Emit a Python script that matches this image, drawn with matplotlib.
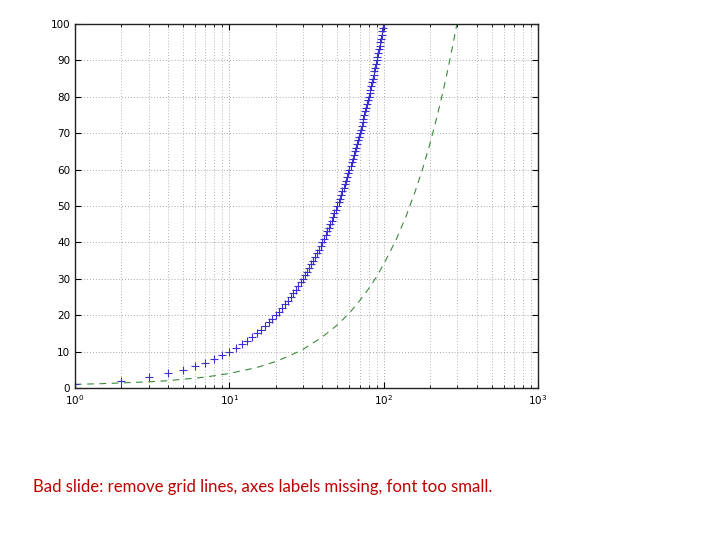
import matplotlib
matplotlib.use("Agg")
import matplotlib.pyplot as plt
from matplotlib.ticker import LogLocator, FixedLocator, NullFormatter

# Blue '+' series (x = 1..100, y = x)
plus_x = [1, 2, 3, 4, 5, 6, 7, 8, 9, 10, 11, 12, 13, 14, 15, 16, 17, 18, 19, 20,
          21, 22, 23, 24, 25, 26, 27, 28, 29, 30, 31, 32, 33, 34, 35, 36, 37, 38, 39, 40,
          41, 42, 43, 44, 45, 46, 47, 48, 49, 50, 51, 52, 53, 54, 55, 56, 57, 58, 59, 60,
          61, 62, 63, 64, 65, 66, 67, 68, 69, 70, 71, 72, 73, 74, 75, 76, 77, 78, 79, 80,
          81, 82, 83, 84, 85, 86, 87, 88, 89, 90, 91, 92, 93, 94, 95, 96, 97, 98, 99, 100]
plus_y = plus_x

# Green dashed series (estimated)
dash_x = [1, 1.5, 2, 3, 4, 5, 7, 10, 15, 20, 25, 30, 40, 50, 60, 70, 80, 90, 100,
          120, 140, 160, 180, 200, 220, 240, 260, 280, 300]
dash_y = [1.0, 1.2, 1.4, 1.7, 2.0, 2.4, 3.0, 4.0, 5.6, 7.3, 9.0, 10.6, 14.0, 17.3,
          20.6, 24.0, 27.3, 30.6, 34.0, 40.6, 47.3, 54.0, 60.6, 67.3, 74.0, 80.6,
          87.3, 94.0, 100.6]

y_ticks = [0, 10, 20, 30, 40, 50, 60, 70, 80, 90, 100]
caption = "Bad slide: remove grid lines, axes labels missing, font too small."

fig = plt.figure(figsize=(7.2, 5.4), dpi=100)
ax = fig.add_axes([75/720, 1-388/540, (538-75)/720, (388-24)/540])

ax.plot(dash_x, dash_y, linestyle=(0, (6, 5)), color="#3a8a3a", linewidth=0.8)
ax.plot(plus_x, plus_y, linestyle="none", marker="+", markersize=6,
        markeredgewidth=0.8, color="#3b2fd0")

ax.set_xscale("log")
ax.set_xlim(1, 1000)
ax.set_ylim(0, 100)
ax.yaxis.set_major_locator(FixedLocator(y_ticks))
ax.xaxis.set_major_locator(LogLocator(base=10, numticks=10))
ax.xaxis.set_minor_locator(LogLocator(base=10, subs=range(2, 10), numticks=20))
ax.xaxis.set_minor_formatter(NullFormatter())

ax.grid(True, which="major", linestyle=(0, (1, 2.5)), color="#8a8a8a", linewidth=0.6)
ax.grid(True, which="minor", axis="x", linestyle=(0, (1, 2.5)), color="#9a9a9a", linewidth=0.6)

ax.tick_params(which="both", direction="in", top=True, right=True, labelsize=7.5)
ax.tick_params(which="major", length=4, width=0.8)
ax.tick_params(which="minor", length=2, width=0.6)
for s in ax.spines.values():
    s.set_linewidth(1.0)
    s.set_color("#222222")

fig.text(33/720, 1-492/540, caption, fontsize=12.1, color="#c00000",
         family=["Lato", "DejaVu Sans"], ha="left", va="baseline")

fig.savefig("out.png", dpi=100)
